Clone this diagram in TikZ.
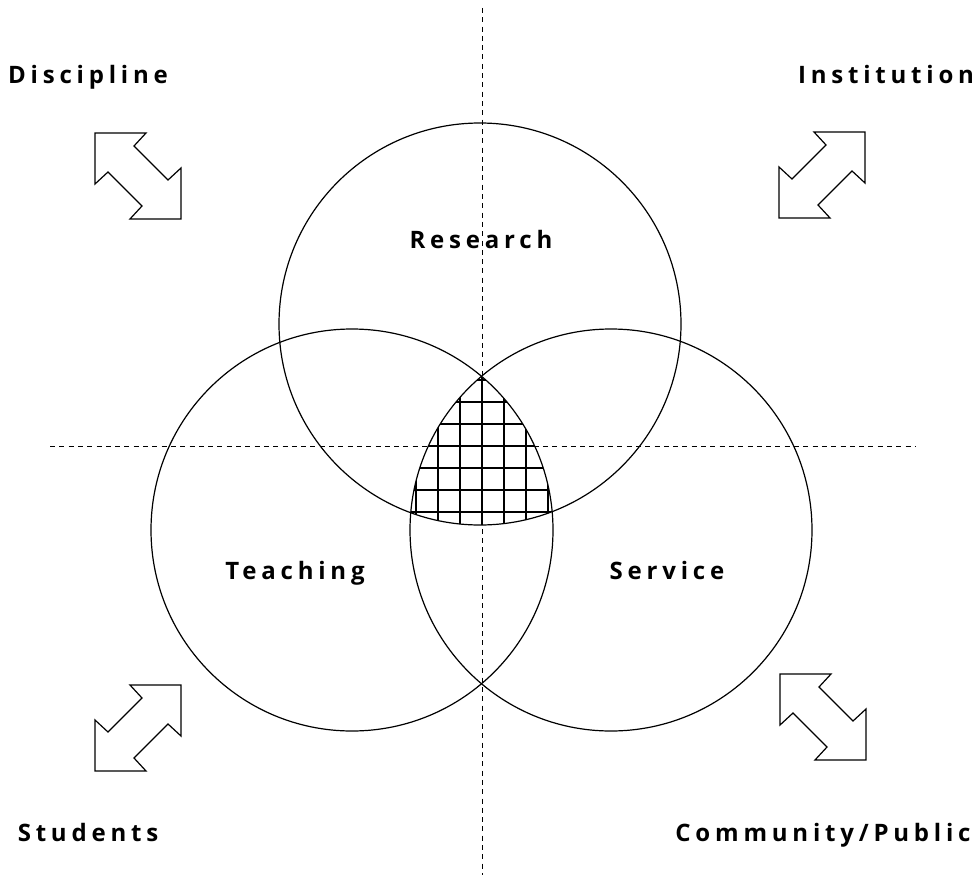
\documentclass[tikz,border=0pt]{standalone}
\usepackage{fontspec}
\setmainfont{Open Sans}[LetterSpace=20]
\tikzset{
  lbl/.style={font=\fontsize{24}{29}\selectfont\bfseries, inner sep=0pt, anchor=base},
  axis/.style={dashed, dash pattern=on 5pt off 4.3pt, line width=0.9pt},
  ring/.style={line width=1.2pt},
  dblarrow/.pic={
    \draw[line width=1.2pt, line join=miter] (-43,-43) -- (8,-43) -- (-4,-30) -- (30,4) -- (43,-8)
      -- (43,43) -- (-8,43) -- (4,30) -- (-30,-4) -- (-43,8) -- cycle;
  }
}
\begin{document}
\begin{tikzpicture}[x=1pt, y=-1pt]
			\useasboundingbox (0,0) rectangle (976,875);

			% centres of the three circles
			\coordinate (res) at (480, 324);
			\coordinate (tea) at (352, 530);
			\coordinate (ser) at (611, 530);

			% the two dashed axes
			\coordinate (top) at (482, 8);
			\coordinate (bot) at (482, 875);
			\coordinate (lft) at (50, 446);
			\coordinate (rgt) at (915, 446);
			\draw [axis] (top) -- (bot);
			\draw [axis] (lft) -- (rgt);

			% hatch the common part of all three circles
			\begin{scope}
				\clip (res) circle (201);
				\clip (tea) circle (201);
				\clip (ser) circle (201);
				\foreach \k in {-5,...,5} {
					\draw [line width=2.8pt] (482+22*\k, 330) -- (482+22*\k, 560);
					\draw [line width=2.8pt] (380, 446+22*\k) -- (580, 446+22*\k);
				}
			\end{scope}

			% the three circles
			\draw [ring] (res) circle (201);
			\draw [ring] (tea) circle (201);
			\draw [ring] (ser) circle (201);

			% circle labels
			\node [lbl] (research) at (481, 248) {Research};
			\node [lbl] (teaching) at (295, 579) {Teaching};
			\node [lbl] (service) at (667, 579) {Service};

			% corner labels
			\node [lbl] (discipline) at (88, 83) {Discipline};
			\node [lbl] (institution) at (886, 83) {Institution};
			\node [lbl] (students) at (88, 841) {Students};
			\node [lbl] (community) at (823, 841) {Community/Public};

			% the double arrows
			\pic at (138, 176) {dblarrow};
			\pic [xscale=-1] at (822, 175) {dblarrow};
			\pic [xscale=-1] at (138, 728) {dblarrow};
			\pic at (823, 717) {dblarrow};
\end{tikzpicture}
\end{document}
